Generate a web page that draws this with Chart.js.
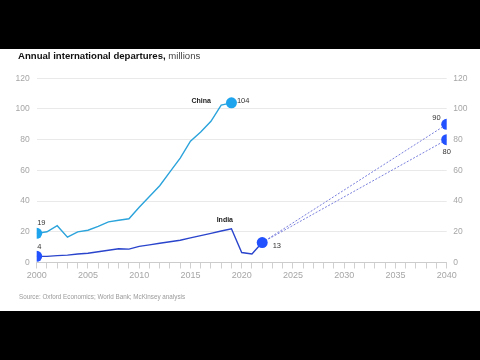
<!DOCTYPE html>
<html><head><meta charset="utf-8">
<script src="https://cdn.jsdelivr.net/npm/chart.js@4/dist/chart.umd.min.js"></script>
<style>html,body{margin:0;padding:0;background:#000;}#wrap{width:480px;height:360px;position:relative;}</style>
</head><body><div id="wrap"><canvas id="c" width="480" height="360"></canvas></div>
<script>
const chinaYears = [2000,2001,2002,2003,2004,2005,2006,2007,2008,2009,2010,2011,2012,2013,2014,2015,2016,2017,2018,2019];
const chinaValues = [19,20,24,16.5,20,21,23.5,26.5,27.5,28.5,36,43,50,59,68,79,85,92,102.5,104];
const indiaYears = [2000,2001,2002,2003,2004,2005,2006,2007,2008,2009,2010,2011,2012,2013,2014,2015,2016,2017,2018,2019,2020,2021,2022];
const indiaValues = [4,4,4.5,4.8,5.5,6,7,8,9,8.7,10.5,11.5,12.5,13.5,14.5,16,17.5,19,20.5,22,6.5,5.5,13];
const projYears = [2022,2040];
const projHigh = [13,90];
const projLow = [13,80];
const yTicks = [0,20,40,60,80,100,120];
const xLabelStep = 5;

const FONT = "'Liberation Sans', Arial, sans-serif";
const pts = (xs, ys) => xs.map((x,i)=>({x:x,y:ys[i]}));
const endR = (idxs, r) => ctx => idxs.includes(ctx.dataIndex) ? r : 0;

const bgPlugin = {
  id:'bg',
  beforeDraw(chart){
    const c = chart.ctx;
    c.save();
    c.fillStyle='#000'; c.fillRect(0,0,480,360);
    c.fillStyle='#fff'; c.fillRect(0,49,480,262);
    c.restore();
  },
  afterDraw(chart){
    const c = chart.ctx;
    c.save();
    c.textBaseline='middle';
    c.textAlign='left';
    c.fillStyle='#111';
    c.font = "bold 9.6px " + FONT;
    const t1 = 'Annual international departures,';
    c.fillText(t1, 18, 56.5);
    const w = c.measureText(t1).width;
    c.font = "9.6px " + FONT;
    c.fillStyle='#444';
    c.fillText(' millions', 18+w, 56.5);
    c.font = "6.3px " + FONT;
    c.fillStyle='#9a9a9a';
    c.fillText('Source: Oxford Economics; World Bank; McKinsey analysis', 19, 297.5);
    c.restore();
  }
};

const labelPlugin = {
  id:'lbls',
  afterDatasetsDraw(chart){
    const c = chart.ctx, xs = chart.scales.x, ys = chart.scales.y;
    const X = v => xs.getPixelForValue(v), Y = v => ys.getPixelForValue(v);
    const cl = chinaValues.length-1, il = indiaValues.length-1;
    c.save();
    c.textBaseline='middle';
    c.fillStyle='#333';
    c.font = "7.5px " + FONT;
    c.textAlign='left';
    c.fillText(String(chinaValues[0]), X(chinaYears[0])+0.5, Y(chinaValues[0])-10.5);
    c.fillText(String(indiaValues[0]), X(indiaYears[0])+0.5, Y(indiaValues[0])-9);
    c.fillText(String(chinaValues[cl]), X(chinaYears[cl])+5.5, Y(chinaValues[cl])-2);
    c.fillText(String(indiaValues[il]), X(indiaYears[il])+10.5, Y(indiaValues[il])+3);
    c.textAlign='right';
    c.fillText(String(projHigh[1]), X(projYears[1])-6, Y(projHigh[1])-6);
    c.textAlign='center';
    c.fillText(String(projLow[1]), X(projYears[1]), Y(projLow[1])+12.5);
    c.font = "bold 7px " + FONT;
    c.fillStyle='#222';
    c.textAlign='right';
    c.fillText('China', X(chinaYears[cl])-20.5, Y(chinaValues[cl])-1.5);
    c.textAlign='center';
    c.fillText('India', X(2018.5)-1.5, Y(indiaValues[19])-9);
    c.restore();
  }
};

const CHINA='#1ea4ec', CHINA_LINE='#2ba3db', INDIA='#2251ff', INDIA_LINE='#2a45cc', PROJ='#6a70d8';

new Chart(document.getElementById('c'), {
  type:'line',
  data:{ datasets:[
    {label:'proj90', data:pts(projYears,projHigh), borderColor:PROJ, borderWidth:0.9, borderDash:[2,1.6], pointRadius:endR([1],5.5), pointBackgroundColor:INDIA, pointBorderWidth:0, order:3},
    {label:'proj80', data:pts(projYears,projLow), borderColor:PROJ, borderWidth:0.9, borderDash:[2,1.6], pointRadius:endR([1],5.5), pointBackgroundColor:INDIA, pointBorderWidth:0, order:3},
    {label:'India', data:pts(indiaYears,indiaValues), borderColor:INDIA_LINE, borderWidth:1.4, pointRadius:endR([0,indiaValues.length-1],5.5), pointBackgroundColor:INDIA, pointBorderWidth:0, order:2},
    {label:'China', data:pts(chinaYears,chinaValues), borderColor:CHINA_LINE, borderWidth:1.4, pointRadius:endR([0,chinaValues.length-1],5.5), pointBackgroundColor:CHINA, pointBorderWidth:0, order:1}
  ]},
  options:{
    responsive:false, animation:false, devicePixelRatio:1,
    layout:{padding:{left:0,right:0,top:78.3,bottom:67.5}},
    plugins:{legend:{display:false}, tooltip:{enabled:false}},
    elements:{line:{tension:0}, point:{hoverRadius:0}},
    scales:{
      x:{type:'linear', min:2000, max:2040,
        afterBuildTicks(a){ const t=[]; for(let v=2000; v<=2040; v++) t.push({value:v}); a.ticks=t; },
        afterFit(a){ a.height=30; },
        ticks:{autoSkip:false, maxRotation:0, padding:2, color:'#a6a6a6', font:{family:FONT,size:9},
          callback:v => (v % xLabelStep === 0 ? String(v) : '')},
        grid:{drawOnChartArea:false, drawTicks:true, tickLength:6, color:'#c4c4c4', lineWidth:0.8},
        border:{display:true, color:'#c4c4c4', width:0.8}
      },
      y:{position:'left', min:0, max:120,
        afterBuildTicks(a){ a.ticks = yTicks.map(v=>({value:v})); },
        afterFit(a){ a.width=36.7; },
        ticks:{padding:7, color:'#a6a6a6', font:{family:FONT,size:8.5}},
        grid:{drawTicks:false, color:'#e6e6e6', lineWidth:0.9},
        border:{display:false}
      },
      y2:{position:'right', min:0, max:120,
        afterBuildTicks(a){ a.ticks = yTicks.map(v=>({value:v})); },
        afterFit(a){ a.width=33.3; },
        ticks:{padding:6.5, color:'#a6a6a6', font:{family:FONT,size:8.5}},
        grid:{drawOnChartArea:false, drawTicks:false},
        border:{display:false}
      }
    }
  },
  plugins:[bgPlugin, labelPlugin]
});
</script></body></html>
